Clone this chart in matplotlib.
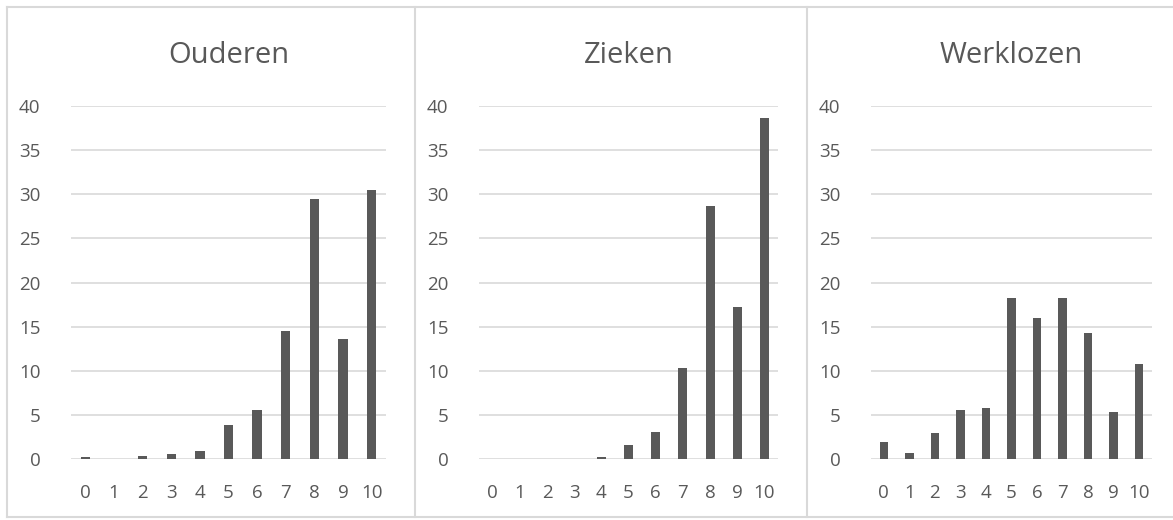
import matplotlib
matplotlib.use("Agg")
import matplotlib.pyplot as plt
from matplotlib.lines import Line2D
import numpy as np

scores = [0, 1, 2, 3, 4, 5, 6, 7, 8, 9, 10]
titles = ["Ouderen", "Zieken", "Werklozen"]
ouderen = [0.2, 0.0, 0.3, 0.6, 0.9, 3.9, 5.6, 14.5, 29.5, 13.6, 30.5]
zieken = [0.05, 0.0, 0.05, 0.05, 0.2, 1.6, 3.1, 10.3, 28.7, 17.2, 38.6]
werklozen = [1.9, 0.7, 2.9, 5.6, 5.8, 18.2, 16.0, 18.3, 14.3, 5.3, 10.8]

BAR = "#595959"
GRID = "#d9d9d9"
TEXT = "#595959"

plt.rcParams["font.family"] = ["Open Sans", "DejaVu Sans"]

W, H = 1173, 520
fig = plt.figure(figsize=(W / 100, H / 100), dpi=100)

# plot area in pixels: (left, right)
areas = [(71, 386), (479, 778), (871, 1152)]
y0, y40 = 459, 106

for (l, r), title, vals in zip(areas, titles, [ouderen, zieken, werklozen]):
    ax = fig.add_axes([l / W, (H - y0) / H, (r - l) / W, (y0 - y40) / H])
    ax.bar(scores, vals, width=0.33, color=BAR, zorder=2)
    ax.set_xlim(-0.5, 10.5)
    ax.set_ylim(0, 40)
    ax.set_yticks(range(0, 41, 5))
    ax.set_xticks(scores)
    ax.grid(axis="y", color=GRID, linewidth=1.2, zorder=0)
    for s in ax.spines.values():
        s.set_visible(False)
    ax.tick_params(length=0, labelsize=13.5, colors=TEXT)
    ax.tick_params(axis="x", pad=18)
    ax.tick_params(axis="y", pad=22)
    ax.set_title(title, fontsize=21, color=TEXT, pad=31)

# panel borders
def line(xs, ys):
    fig.add_artist(Line2D([x / W for x in xs], [1 - y / H for y in ys],
                          color=GRID, linewidth=1.5))

line([7, W], [7, 7])
line([7, W], [517, 517])
line([7, 7], [7, 517])
line([414.5, 414.5], [7, 517])
line([807, 807], [7, 517])

fig.savefig("out.png", dpi=100)
